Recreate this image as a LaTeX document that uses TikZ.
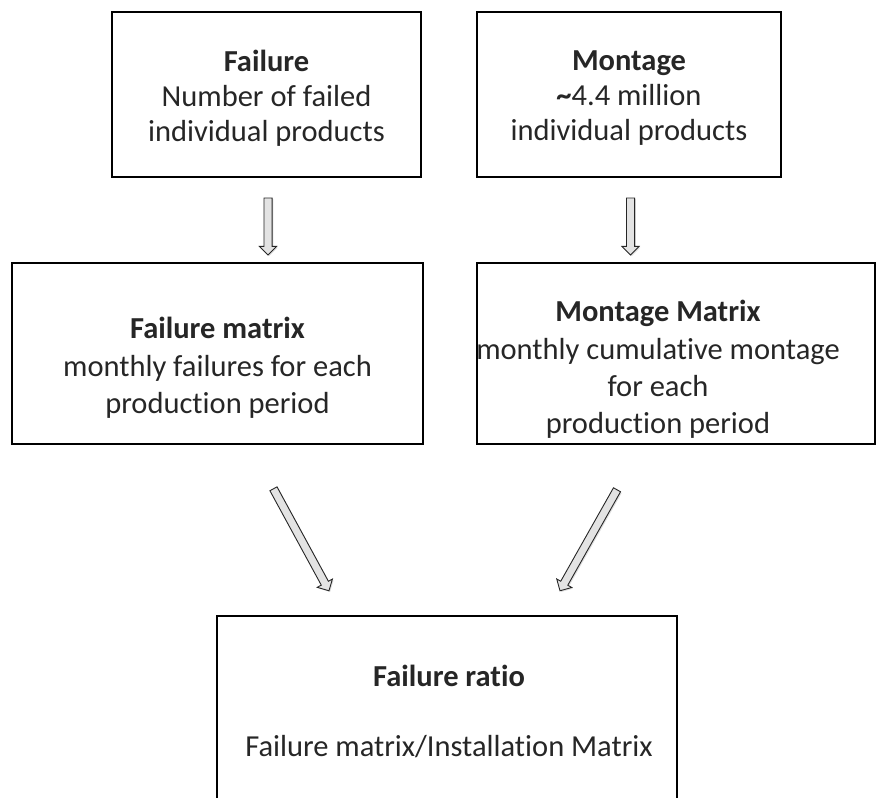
\documentclass[tikz,border=0pt]{standalone}
\usepackage{fontspec}
\setmainfont{Carlito}[Ligatures={NoCommon,NoContextual}]
\usetikzlibrary{shapes.arrows,calc,shadows}
\tikzset{
  box/.style={draw=black, line width=2.2pt, rectangle, inner sep=0pt},
  txt/.style={align=center, text=black!85, inner sep=0pt},
  blockarrow/.style={single arrow, draw=black!85, line width=0.9pt, fill=gray!22,
    inner xsep=0pt, inner ysep=3.6pt, single arrow head extend=4.6pt,
    single arrow tip angle=90, single arrow head indent=0pt, outer sep=0pt,
    drop shadow={opacity=0.25, shadow xshift=1.2pt, shadow yshift=-1.2pt}},
}
\newcommand{\blockarr}[2]{%
  \path let \p1=($(#2)-(#1)$), \n1={atan2(\y1,\x1)}, \n2={veclen(\x1,\y1)} in
    node[blockarrow, rotate=\n1, minimum height=\n2] at ($(#1)!0.5!(#2)$) {};}
\begin{document}
\begin{tikzpicture}[x=1pt,y=-1pt]
\useasboundingbox (0,0) rectangle (876,798);
\fontsize{30.5}{35}\selectfont
% boxes
\node[box, minimum width=309pt, minimum height=165pt] (b1) at (266.5,94.5) {};
\node[box, minimum width=304pt, minimum height=165pt] (b2) at (629,94.5) {};
\node[box, minimum width=411pt, minimum height=181pt] (b3) at (217.5,353.5) {};
\node[box, minimum width=398pt, minimum height=181pt] (b4) at (676,353.5) {};
\node[box, minimum width=460pt, minimum height=260pt] (b5) at (447,746) {};
% texts
\node[txt] (t1) at (266.5,98) {\textbf{Failure}\\Number of failed\\individual products};
\node[txt] (t2) at (629,98) {\textbf{Montage}\\\textbf{\textasciitilde}4.4 million\\individual products};
\node[txt, font=\fontsize{30.5}{37.5}\selectfont] (t3) at (217.5,368) {\textbf{Failure matrix}\\monthly failures for each\\production period};
\node[txt, font=\fontsize{30.5}{37.3}\selectfont] (t4) at (658,369.5) {\textbf{Montage Matrix}\\monthly cumulative montage\\for each\\production period};
\node[txt] (t5) at (449,711) {\textbf{Failure ratio}\\[35pt]Failure matrix/Installation Matrix};
% arrows
\coordinate (a1s) at (268,196); \coordinate (a1e) at (268,253);
\coordinate (a2s) at (630.5,196); \coordinate (a2e) at (630.5,253);
\coordinate (a3s) at (272.5,487); \coordinate (a3e) at (328,589);
\coordinate (a4s) at (618,488); \coordinate (a4e) at (561,589);
\blockarr{a1s}{a1e}
\blockarr{a2s}{a2e}
\blockarr{a3s}{a3e}
\blockarr{a4s}{a4e}
\end{tikzpicture}
\end{document}
